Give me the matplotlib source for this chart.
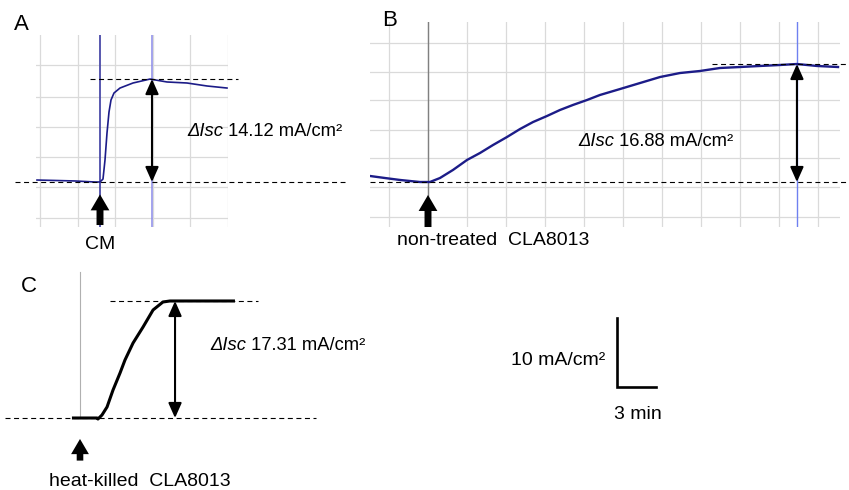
import matplotlib.pyplot as plt

plt.rcParams['font.family'] = ['Liberation Sans', 'DejaVu Sans']

# A: CM  (time in min after addition, Isc in mA/cm2 above baseline)
a_time = [-5.04, -3.6, -2.0, -0.4, 0.0, 0.24, 0.40, 0.56, 0.72, 0.88, 1.12,
          1.60, 2.64, 4.00, 5.36, 6.96, 8.56, 10.16]
a_isc = [0.27, 0.21, 0.14, 0.0, 0.0, 0.41, 3.02, 6.72, 9.60, 11.25, 12.21,
         12.89, 13.58, 14.12, 13.72, 13.58, 13.17, 12.89]
a_delta = 14.12
a_peak_time = 4.16

# B: non-treated CLA8013
b_time = [-4.46, -3.31, -2.15, -1.0, -0.62, 0.15, 0.92, 1.92, 3.0, 4.0, 5.0,
          6.08, 7.08, 8.08, 9.15, 10.15, 11.15, 12.23, 13.23, 14.77, 16.31,
          17.85, 19.38, 20.92, 22.46, 24.0, 25.54, 27.08, 28.38, 29.92, 31.54]
b_isc = [0.86, 0.57, 0.29, 0.07, 0.0, 0.0, 0.57, 1.72, 3.15, 4.15, 5.29,
         6.44, 7.58, 8.58, 9.44, 10.30, 11.02, 11.73, 12.45, 13.30, 14.16,
         15.02, 15.59, 15.88, 16.31, 16.45, 16.60, 16.74, 16.88, 16.60, 16.45]
b_delta = 16.88
b_peak_time = 28.38

# C: heat-killed CLA8013
c_time = [-0.62, 1.31, 1.38, 1.69, 2.08, 2.54, 3.08, 3.46, 4.08, 4.85, 5.62,
          6.38, 6.92, 11.92]
c_isc = [0.0, 0.0, -0.15, 0.44, 1.63, 4.14, 6.66, 8.58, 11.09, 13.46, 15.98,
         17.16, 17.31, 17.31]
c_delta = 17.31
c_peak_time = 7.31

scale_isc = 10
scale_min = 3

W, H = 849, 490
fig = plt.figure(figsize=(W / 100, H / 100), dpi=100)


def panel(left, top, right, bottom, x0, y0, px_x, px_y):
    # axes placed in pixel box, data in min / mA/cm2
    ax = fig.add_axes([left / W, 1 - bottom / H, (right - left) / W, (bottom - top) / H])
    ax.set_xlim((left - x0) / px_x, (right - x0) / px_x)
    ax.set_ylim((y0 - bottom) / px_y, (y0 - top) / px_y)
    for s in ax.spines.values():
        s.set_visible(False)
    ax.tick_params(length=0, labelbottom=False, labelleft=False)
    ax.patch.set_alpha(0)
    ax.set_xticks([])
    ax.set_yticks([])
    return ax


def ftext(x, y, s, **kw):
    kw.setdefault('fontsize', 14)
    kw.setdefault('va', 'center')
    return fig.text(x / W, 1 - y / H, s, **kw)


def delta_label(x, y, value):
    t = ftext(x, y, 'ΔIsc', fontsize=13.2, style='italic')
    plt.annotate(' %.2f mA/cm²' % value, xy=(1, 0), xycoords=t,
                 fontsize=13.2, va='bottom', ha='left', annotation_clip=False)


def dashed(ax, x1, x2, y):
    ax.plot([x1, x2], [y, y], color='k', lw=0.8, ls=(0, (4.5, 3.2)), clip_on=False, zorder=4)


def double_arrow(ax, x, top):
    ax.annotate('', xy=(x, top), xytext=(x, 0),
                arrowprops=dict(arrowstyle='<|-|>,head_length=0.9,head_width=0.4',
                                mutation_scale=10, lw=1.5, color='k',
                                shrinkA=0, shrinkB=0), zorder=5)


def up_arrow(ax, x, tip, tail, scale=10):
    ax.annotate('', xy=(x, tip), xytext=(x, tail),
                arrowprops=dict(arrowstyle='simple,head_length=1.15,head_width=1.35,tail_width=0.5',
                                mutation_scale=scale, fc='k', ec='none',
                                shrinkA=0, shrinkB=0), annotation_clip=False, zorder=6)


grid_col = '#dadada'

# panel A
axA = panel(36, 35, 228, 227, 100, 182, 12.5, 7.29)
axA.set_xticks([-4.8 + 3 * k for k in range(6)])
axA.set_yticks([16.05, 11.66, 7.54, 3.43, -0.69, -4.94])
axA.grid(True, color=grid_col, lw=0.9)
axA.set_axisbelow(True)
axA.axvline(0, color='#4a4aa8', lw=1.3, zorder=2)
axA.axvline(a_peak_time, color='#8a8ae8', lw=1.1, zorder=2)
axA.plot(a_time, a_isc, color='#1c1c88', lw=1.2, zorder=3)
dashed(axA, -0.8, 11.04, a_delta)
dashed(axA, -6.8, 19.6, 0)
double_arrow(axA, a_peak_time, a_delta)
up_arrow(axA, 0, -1.7, -5.9)

# panel B
axB = panel(370, 22, 840, 227, 428, 182, 13.0, 6.99)
axB.set_xticks([-3 + 3 * k for k in range(12)])
axB.set_yticks([19.89, 15.74, 11.73, 7.44, 3.43, -0.72, -5.0])
axB.grid(True, color=grid_col, lw=0.9)
axB.set_axisbelow(True)
axB.axvline(0, color='#808080', lw=1.0, zorder=2)
axB.axvline(b_peak_time, color='#6f80f0', lw=1.0, zorder=2)
axB.plot(b_time, b_isc, color='#1c1c88', lw=1.7, zorder=3)
dashed(axB, 21.85, 32.4, b_delta)
dashed(axB, -4.46, 32.4, 0)
double_arrow(axB, b_peak_time, b_delta)
up_arrow(axB, 0, -1.86, -6.44)

# panel C
axC = panel(0, 265, 330, 470, 80, 418, 13.0, 6.76)
axC.plot([0, 0], [0, 21.6], color='#b0b0b0', lw=0.8, zorder=2)
axC.plot(c_time, c_isc, color='k', lw=2.2, zorder=3, solid_capstyle='butt')
dashed(axC, 2.31, 13.69, c_delta)
dashed(axC, -5.77, 18.15, 0)
double_arrow(axC, c_peak_time, c_delta)
up_arrow(axC, 0, -3.1, -6.3, scale=9.5)

# scale bar
axS = panel(600, 300, 700, 400, 617, 387, 13.0, 6.9)
axS.plot([0, 0, scale_min], [scale_isc, 0, 0], color='k', lw=1.9, solid_joinstyle='miter')

# labels
ftext(21, 24, 'A', fontsize=16, ha='center')
ftext(390, 21, 'B', fontsize=16, ha='center')
ftext(29, 286, 'C', fontsize=16, ha='center')
delta_label(187, 131, a_delta)
delta_label(578, 142, b_delta)
delta_label(210, 345, c_delta)
ftext(100, 244, 'CM', ha='center')
ftext(493, 240, 'non-treated  CLA8013', ha='center')
ftext(140, 481, 'heat-killed  CLA8013', ha='center')
ftext(605, 360, '10 mA/cm²', ha='right')
ftext(638, 414, '3 min', ha='center')

fig.savefig('out.png', dpi=100)
